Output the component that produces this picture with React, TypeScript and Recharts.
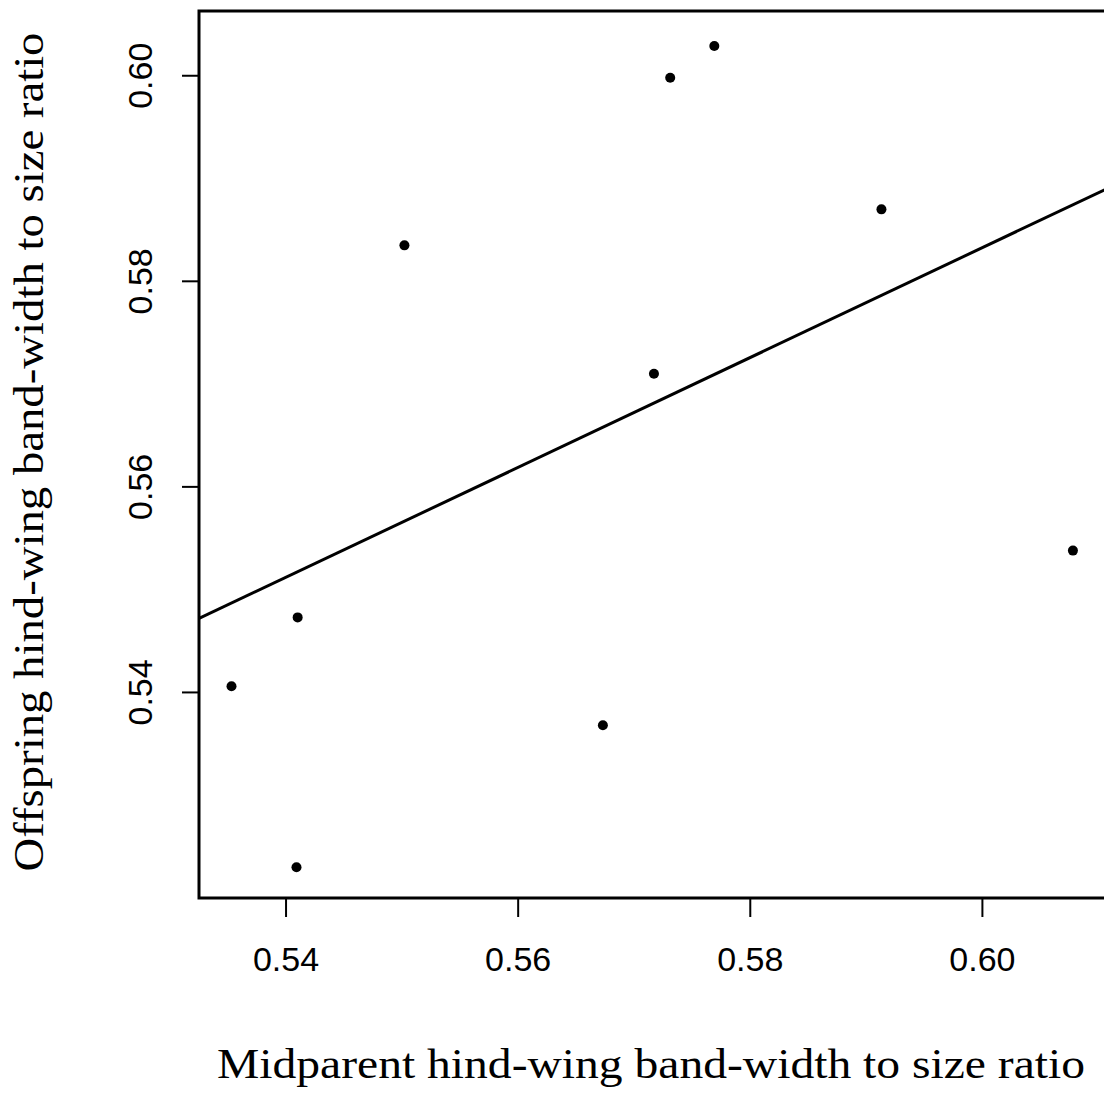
import React from 'react'
import { ReferenceArea, Scatter, ScatterChart, XAxis, YAxis } from 'recharts'

// ─── Data ───────────────────────────────────────────────────────────────────────
const midparent = [0.5353, 0.541, 0.5409, 0.5502, 0.5673, 0.5717, 0.5731, 0.5769, 0.5913, 0.6078]
const offspring = [0.5406, 0.5473, 0.523, 0.5835, 0.5368, 0.571, 0.5998, 0.6029, 0.587, 0.5538]

// fitted line, read at the two frame edges
const fitX = [0.5325, 0.6122]
const fitY = [0.5472, 0.5898]

const xTicks = [0.54, 0.56, 0.58, 0.6]
const yTicks = [0.54, 0.56, 0.58, 0.6]
const xDomain: [number, number] = [0.5325, 0.6122]
const yDomain: [number, number] = [0.52, 0.6063]

const points = midparent.map((x, i) => ({ x, y: offspring[i] }))
const fitLine = fitX.map((x, i) => ({ x, y: fitY[i] }))

const SANS = '"Liberation Sans", Arial, Helvetica, sans-serif'
const SERIF = '"Liberation Serif", "Times New Roman", serif'

// ─── Rotated y tick labels ──────────────────────────────────────────────────────
const YTick = ({ x, y, payload }: any) => {
  const bx = x - 30
  return (
    <text
      x={bx}
      y={y}
      textAnchor="middle"
      transform={`rotate(-90, ${bx}, ${y})`}
      fontFamily={SANS}
      fontSize={34}
      fill="#000"
    >
      {payload.value.toFixed(2)}
    </text>
  )
}

const Dot = ({ cx, cy }: any) => <circle cx={cx} cy={cy} r={5} fill="#000" />

const XTitle = () => (
  <text x={651} y={1078} textAnchor="middle" fontFamily={SERIF} fontSize={42} fill="#000"
    textLength={868} lengthAdjust="spacingAndGlyphs">
    Midparent hind-wing band-width to size ratio
  </text>
)

const YTitle = () => (
  <text x={43} y={452} textAnchor="middle" transform="rotate(-90, 43, 452)" fontFamily={SERIF}
    fontSize={42} fill="#000" textLength={839} lengthAdjust="spacingAndGlyphs">
    Offspring hind-wing band-width to size ratio
  </text>
)

export default function App() {
  return (
    <div style={{ position: 'fixed', top: 0, left: 0, width: 1104, height: 1096, overflow: 'hidden', background: '#fff' }}>
      <ScatterChart width={1140} height={1096} margin={{ top: 11, right: 16, bottom: 0, left: 0 }}>
        <XAxis
          type="number"
          dataKey="x"
          domain={xDomain}
          ticks={xTicks}
          tickFormatter={(v) => v.toFixed(2)}
          allowDataOverflow
          height={198}
          axisLine={false}
          tickLine={{ stroke: '#000', strokeWidth: 2 }}
          tickSize={19}
          tickMargin={30}
          tick={{ fontFamily: SANS, fontSize: 34, fill: '#000' }}
          label={{ content: <XTitle /> }}
        />
        <YAxis
          type="number"
          dataKey="y"
          domain={yDomain}
          ticks={yTicks}
          allowDataOverflow
          width={199}
          axisLine={false}
          tickLine={{ stroke: '#000', strokeWidth: 2 }}
          tickSize={17}
          tickMargin={0}
          tick={<YTick />}
          label={{ content: <YTitle /> }}
        />
        <ReferenceArea
          x1={xDomain[0]}
          x2={xDomain[1]}
          y1={yDomain[0]}
          y2={yDomain[1]}
          fill="none"
          fillOpacity={0}
          stroke="#000"
          strokeWidth={3}
          ifOverflow="visible"
        />
        <Scatter
          data={fitLine}
          line={{ stroke: '#000', strokeWidth: 3 }}
          shape={() => null}
          isAnimationActive={false}
        />
        <Scatter data={points} shape={<Dot />} isAnimationActive={false} />
      </ScatterChart>
    </div>
  )
}
